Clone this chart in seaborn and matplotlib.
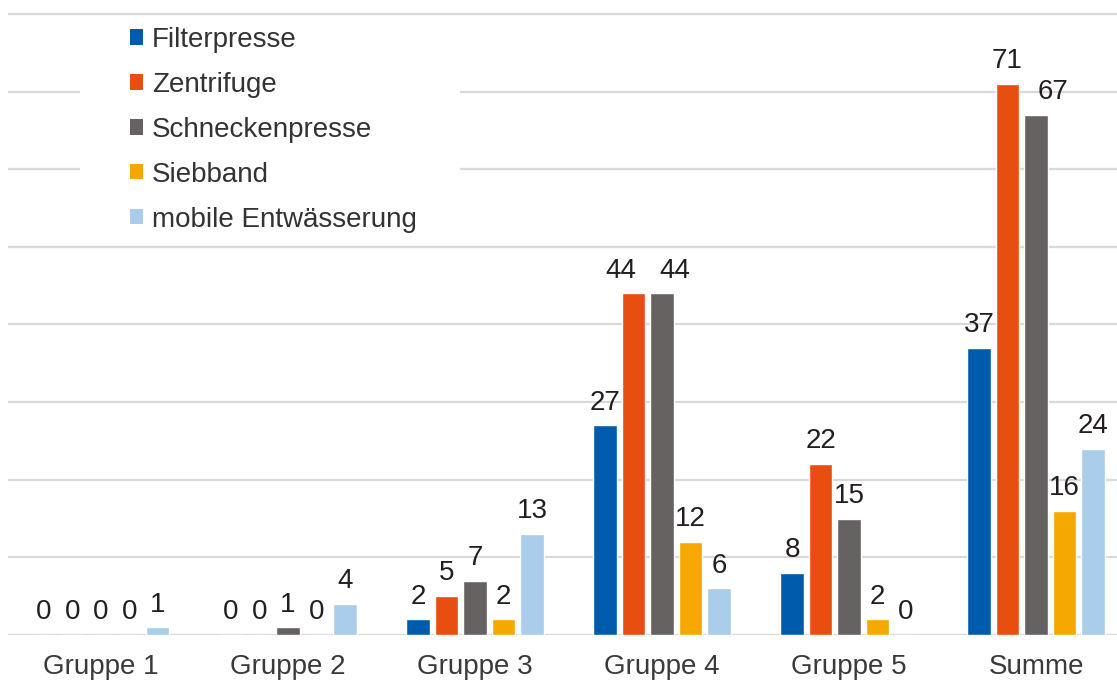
import matplotlib
matplotlib.use("Agg")
import matplotlib.pyplot as plt
from matplotlib.patches import Patch, Rectangle
import pandas as pd
import seaborn as sns

# data
groups = ["Gruppe 1", "Gruppe 2", "Gruppe 3", "Gruppe 4", "Gruppe 5", "Summe"]
series = ["Filterpresse", "Zentrifuge", "Schneckenpresse", "Siebband", "mobile Entwässerung"]
filterpresse = [0, 0, 2, 27, 8, 37]
zentrifuge = [0, 0, 5, 44, 22, 71]
schneckenpresse = [0, 1, 7, 44, 15, 67]
siebband = [0, 0, 2, 12, 2, 16]
mobile = [1, 4, 13, 6, 0, 24]
colors = ["#005BAC", "#E84E0F", "#676262", "#F5A800", "#A9CDEB"]

rows = []
for name, vals in zip(series, [filterpresse, zentrifuge, schneckenpresse, siebband, mobile]):
    for g, v in zip(groups, vals):
        rows.append({"group": g, "series": name, "value": v})
df = pd.DataFrame(rows)

sns.set_theme(style="white")
plt.rcParams['font.family'] = ['Liberation Sans', 'DejaVu Sans']

fig = plt.figure(figsize=(11.17, 6.84), dpi=100)
ax = fig.add_axes([8 / 1117, 49 / 684, 1109 / 1117, 635 / 684])

sns.barplot(data=df, x="group", y="value", hue="series", palette=colors,
            width=0.762, gap=0.19, saturation=1, ax=ax, legend=False, zorder=3)

labels = []
for cont in ax.containers:
    labels.append(ax.bar_label(cont, fmt="%d", padding=7, fontsize=20, color="#231f20"))

# labels that were pushed sideways in the original so they do not collide
labels[1][3].xyann = (-9, 7)   # Gruppe 4 Zentrifuge
labels[2][3].xyann = (9, 7)    # Gruppe 4 Schneckenpresse
labels[2][5].xyann = (12, 7)   # Summe Schneckenpresse

ax.set_xlim(-0.497, 5.433)
ax.set_ylim(0, 81.8)
ax.set_yticks(range(0, 81, 10))
ax.set_yticklabels([])
ax.yaxis.grid(True, color="#d9d9d9", linewidth=1.6, zorder=0)
ax.set_axisbelow(True)
for s in ax.spines.values():
    s.set_visible(False)
ax.set_xlabel("")
ax.set_ylabel("")
ax.tick_params(axis="x", length=0, pad=14, labelsize=20, labelcolor="#3a3a3a")
ax.tick_params(axis="y", length=0)

# white box behind the legend, it hides the gridlines there
ax.add_patch(Rectangle((80 / 1117, 1 - 244 / 684), 380 / 1117, 228 / 684,
                       transform=fig.transFigure, facecolor="white", edgecolor="none", zorder=1))

handles = [Patch(facecolor=c, edgecolor="none") for c in colors]
leg = fig.legend(handles, series, loc="upper left", bbox_to_anchor=(130 / 1117, 1 - 27 / 684),
                 frameon=False, fontsize=20, handlelength=0.47, handleheight=0.47,
                 handletextpad=0.33, labelspacing=0.68, borderpad=0, borderaxespad=0)
for t in leg.get_texts():
    t.set_color("#333333")

fig.savefig("out.png", dpi=100)
